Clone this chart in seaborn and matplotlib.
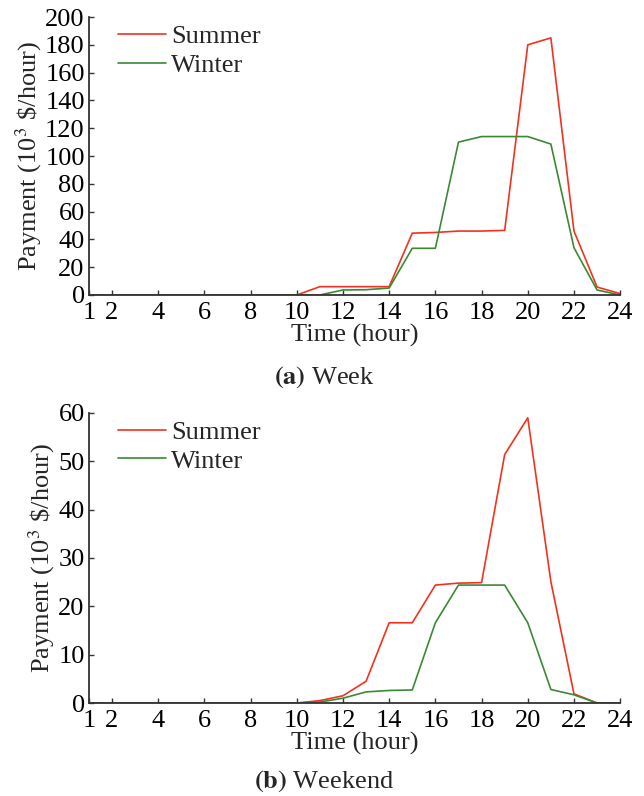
import numpy as np
import pandas as pd
import matplotlib
matplotlib.use("Agg")
import matplotlib.pyplot as plt
import seaborn as sns

hours = list(range(1, 25))

# weekday payment (10^3 $/hour)
week_summer = [0, 0, 0, 0, 0, 0, 0, 0, 0, 0, 6, 6, 6, 6, 44.5, 45, 46, 46, 46.5, 180, 185, 46, 5.7, 1]
week_winter = [0, 0, 0, 0, 0, 0, 0, 0, 0, 0, 0, 3.6, 3.8, 5, 33.6, 33.6, 110, 114, 114, 114, 108.6, 34, 3.6, 0]

# weekend payment
wkend_summer = [0, 0, 0, 0, 0, 0, 0, 0, 0, 0, 0.5, 1.5, 4.5, 16.6, 16.6, 24.4, 24.8, 24.9, 51.4, 59, 25.1, 1.9, 0, 0]
wkend_winter = [0, 0, 0, 0, 0, 0, 0, 0, 0, 0, 0.2, 1.0, 2.3, 2.6, 2.7, 16.6, 24.4, 24.4, 24.4, 16.6, 2.8, 1.7, 0, 0]

xticks = [1, 2, 4, 6, 8, 10, 12, 14, 16, 18, 20, 22, 24]

sns.set_style("ticks")
plt.rcParams['font.family'] = ['Liberation Serif', 'DejaVu Serif']
plt.rcParams['mathtext.fontset'] = 'stix'

palette = {"Summer": "#f2321e", "Winter": "#3a8a35"}
fs = 19

fig = plt.figure(figsize=(6.44, 7.96), dpi=100)
ax1 = fig.add_axes([0.138, 0.6294, 0.825, 0.3492])
ax2 = fig.add_axes([0.138, 0.1168, 0.825, 0.3644])


def panel(ax, summer, winter, ymax, ystep):
    df = pd.DataFrame({
        "hour": hours * 2,
        "pay": summer + winter,
        "season": ["Summer"] * 24 + ["Winter"] * 24,
    })
    sns.lineplot(data=df, x="hour", y="pay", hue="season", palette=palette,
                 linewidth=1.2, ax=ax)
    ax.set_xlim(1, 24)
    ax.set_ylim(0, ymax)
    ax.set_xticks(xticks)
    ax.set_yticks(np.arange(0, ymax + 1, ystep))
    ax.tick_params(direction="in", length=3.5, width=1, colors="#333333",
                   labelsize=fs, labelcolor="black")
    ax.tick_params(axis="x", pad=5)
    ax.tick_params(axis="y", pad=3)
    for s in ["top", "right"]:
        ax.spines[s].set_visible(False)
    for s in ["left", "bottom"]:
        ax.spines[s].set_color("#333333")
        ax.spines[s].set_linewidth(1.3)
    ax.set_xlabel("Time (hour)", fontsize=fs, labelpad=0)
    ax.set_ylabel(r"Payment (10$^{3}$ \$/hour)", fontsize=fs, labelpad=1)
    leg = ax.legend(loc="upper left", frameon=False, fontsize=fs,
                    handlelength=1.8, handletextpad=0.2, labelspacing=0.2,
                    borderaxespad=0.1, bbox_to_anchor=(0.03, 1.02))
    for line in leg.get_lines():
        line.set_linewidth(1.2)


panel(ax1, week_summer, week_winter, 200, 20)
panel(ax2, wkend_summer, wkend_winter, 60, 10)

fig.text(0.503, 0.526, r"$\bf{(a)}$ Week", ha="center", va="center", fontsize=fs)
fig.text(0.503, 0.019, r"$\bf{(b)}$ Weekend", ha="center", va="center", fontsize=fs)

fig.savefig("out.png", dpi=100)
